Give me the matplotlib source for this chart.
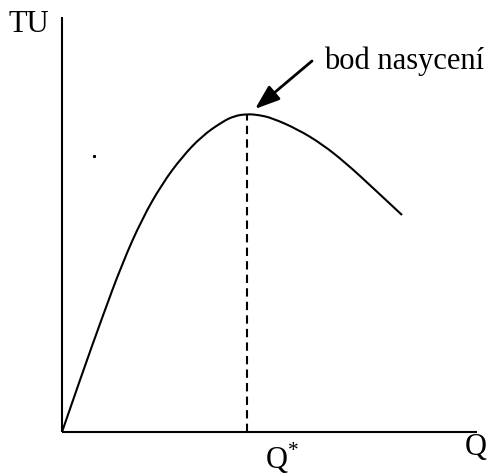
import matplotlib.pyplot as plt
from matplotlib.path import Path
from matplotlib.patches import PathPatch

# quantity Q and total utility TU
q = [0, 20, 40, 60, 80, 100, 120, 140, 160, 172, 185, 197, 210, 235, 260, 285, 310, 340]
tu = [0, 58, 114, 168, 213, 248, 275, 296, 310, 316, 318, 317, 314, 303, 288, 268, 245, 217]
q_star = 185
tu_max = 318
label_tu = "TU"
label_q = "Q"
label_qstar = "Q$^{*}$"
label_sat = "bod nasycení"

plt.rcParams['font.family'] = ['Liberation Serif', 'DejaVu Serif']
plt.rcParams['mathtext.fontset'] = 'custom'
plt.rcParams['mathtext.rm'] = 'Liberation Serif'

fig = plt.figure(figsize=(4.97, 4.77), dpi=100)
ax = fig.add_axes([0, 0, 1, 1])
ax.set_xlim(-62, 435)
ax.set_ylim(-44, 433)
ax.axis('off')

# axes lines
ax.plot([0, 0], [0, 415], color='black', lw=1.5, solid_capstyle='butt')
ax.plot([0, 415], [0, 0], color='black', lw=1.5, solid_capstyle='butt')

# TU curve, drawn as a smooth quadratic path through the read points
pts = list(zip(q, tu))
verts = [pts[0]]
codes = [Path.MOVETO]
for i in range(1, len(pts) - 1):
    mid = ((pts[i][0] + pts[i + 1][0]) / 2, (pts[i][1] + pts[i + 1][1]) / 2)
    if i == len(pts) - 2:
        mid = pts[-1]
    verts += [pts[i], mid]
    codes += [Path.CURVE3, Path.CURVE3]
ax.add_patch(PathPatch(Path(verts, codes), fill=False, ec='black', lw=1.5))

# saturation point marker line
ax.plot([q_star, q_star], [0, tu_max], color='black', lw=1.5, ls=(0, (4, 2.5)))

# stray dot from the original figure
ax.plot([32], [276], marker='s', ms=1.2, color='black')

ax.annotate('', xy=(q_star + 8, tu_max + 5), xytext=(250, 371),
            arrowprops=dict(arrowstyle='-|>,head_length=1.0,head_width=0.36',
                            mutation_scale=15, lw=2, color='black',
                            shrinkA=0, shrinkB=0))

ax.text(262, 372, label_sat, fontsize=22, ha='left', va='center')
ax.text(-54, 408, label_tu, fontsize=22, ha='left', va='center')
ax.text(403, -15, label_q, fontsize=22, ha='left', va='center')
ax.text(203, -25, label_qstar, fontsize=22, ha='left', va='center')

fig.savefig('out.png', dpi=100)
